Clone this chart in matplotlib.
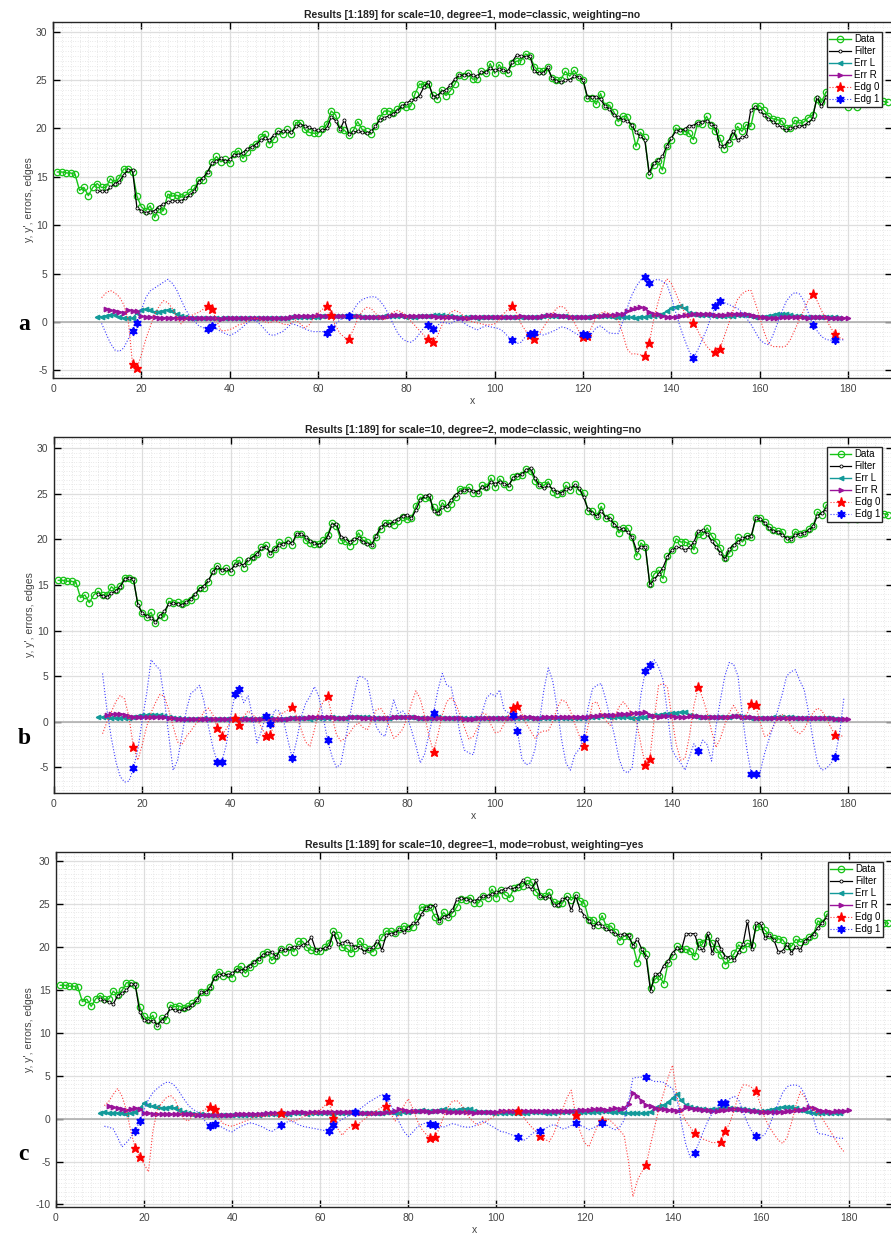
import numpy as np
import matplotlib.pyplot as plt
from matplotlib.ticker import MultipleLocator

plt.rcParams['font.family'] = ['Liberation Sans', 'DejaVu Sans']
plt.rcParams['axes.unicode_minus'] = False

# measured series, x = 1..189
y_data = [15.5, 15.5, 15.4, 15.4, 15.25, 13.6, 13.9, 13.05, 13.9, 14.3,
          13.9, 13.9, 14.8, 14.4, 14.9, 15.8, 15.8, 15.5, 13.0, 11.9,
          11.5, 12.0, 10.8, 11.7, 11.5, 13.2, 13.0, 13.1, 12.9, 13.1,
          13.4, 13.8, 14.7, 14.7, 15.35, 16.5, 17.1, 16.55, 16.8, 16.4,
          17.4, 17.7, 16.9, 17.6, 18.1, 18.4, 19.1, 19.4, 18.4, 18.9,
          19.7, 19.4, 19.9, 19.4, 20.6, 20.6, 19.9, 19.6, 19.5, 19.5,
          19.9, 20.45, 21.8, 21.4, 19.9, 19.8, 19.3, 19.8, 20.7, 19.9,
          19.7, 19.4, 20.2, 21.1, 21.8, 21.8, 21.6, 22.0, 22.4, 22.2,
          22.3, 23.6, 24.6, 24.5, 24.6, 23.5, 23.0, 24.0, 23.4, 23.9,
          24.6, 25.55, 25.4, 25.7, 25.1, 25.1, 25.9, 25.7, 26.7, 25.7,
          26.6, 26.0, 25.7, 26.8, 26.95, 27.0, 27.7, 27.5, 26.4, 25.9,
          25.9, 26.3, 25.2, 25.0, 25.05, 25.9, 25.4, 26.0, 25.3, 25.05,
          23.1, 23.1, 22.5, 23.6, 22.3, 22.4, 21.7, 20.7, 21.25, 21.2,
          20.2, 18.15, 19.6, 19.1, 15.15, 16.2, 16.6, 15.7, 18.15, 18.85,
          20.05, 19.7, 19.7, 19.5, 18.85, 20.55, 20.45, 21.25, 20.4, 19.7,
          19.0, 17.9, 18.5, 19.2, 20.2, 19.7, 20.4, 20.2, 22.3, 22.35,
          21.9, 21.3, 21.0, 20.9, 20.8, 20.05, 20.05, 20.85, 20.55, 20.65,
          21.1, 21.4, 23.0, 22.7, 23.75, 23.9, 23.4, 23.6, 23.0, 22.2,
          22.8, 22.2, 22.6, 23.0, 23.2, 23.1, 23.0, 22.8, 22.7]

# filter outputs, x = 10..180
filt_a = [13.5, 13.5, 13.5, 13.9, 14.3, 14.5, 15.2, 15.7, 15.7, 11.8,
          11.5, 11.3, 11.4, 11.5, 11.9, 12.2, 12.4, 12.5, 12.5, 12.5,
          12.8, 13.1, 13.5, 14.5, 14.9, 15.5, 16.4, 16.6, 16.9, 16.6,
          16.8, 17.3, 17.3, 17.5, 17.9, 18.1, 18.3, 18.8, 19.0, 18.8,
          19.3, 19.6, 19.7, 19.7, 19.6, 20.2, 20.4, 20.3, 20.1, 19.9,
          19.8, 19.8, 20.0, 21.2, 20.8, 19.9, 20.9, 19.4, 19.6, 19.7,
          19.6, 19.5, 19.7, 20.2, 20.9, 21.1, 21.3, 21.5, 21.8, 22.3,
          22.6, 22.9, 23.0, 23.4, 24.3, 24.8, 23.3, 23.4, 23.8, 24.0,
          24.5, 25.1, 25.5, 25.5, 25.6, 25.5, 25.4, 25.8, 25.8, 26.2,
          26.0, 26.1, 26.0, 25.9, 26.9, 27.6, 27.5, 27.4, 27.5, 25.9,
          25.7, 25.7, 26.3, 25.2, 24.9, 24.8, 25.0, 25.05, 25.4, 25.3,
          25.05, 23.3, 23.3, 23.3, 23.0, 22.3, 22.0, 21.4, 21.2, 20.9,
          20.8, 20.4, 19.6, 19.2, 18.8, 15.4, 16.4, 16.7, 17.1, 18.2,
          19.0, 19.7, 19.8, 19.9, 20.3, 20.3, 20.6, 20.7, 20.8, 20.5,
          20.2, 18.2, 18.2, 18.7, 19.7, 18.8, 19.1, 19.2, 21.9, 22.2,
          21.8, 21.4, 21.0, 20.7, 20.4, 20.1, 19.8, 20.0, 20.1, 20.2,
          20.3, 20.6, 21.0, 23.3, 22.3, 23.2, 23.5, 23.8, 24.0, 24.1, 24.0]

filt_b = [14.0, 13.8, 13.7, 14.1, 14.3, 14.8, 15.6, 15.8, 15.7, 12.8,
          11.9, 11.6, 11.4, 10.9, 11.6, 12.1, 12.9, 13.0, 12.9, 12.8,
          13.1, 13.5, 14.0, 14.6, 14.9, 15.5, 16.4, 17.0, 16.6, 16.7,
          16.6, 17.2, 17.3, 17.2, 17.8, 18.0, 18.4, 19.0, 19.2, 18.5,
          18.9, 19.4, 19.5, 19.7, 19.6, 20.6, 20.6, 20.3, 19.8, 19.6,
          19.4, 19.7, 20.3, 21.6, 21.7, 20.3, 20.1, 19.7, 20.0, 20.1,
          19.7, 19.5, 19.4, 20.4, 21.3, 21.7, 21.6, 22.0, 22.2, 22.6,
          22.7, 22.3, 23.2, 24.3, 24.7, 24.9, 23.1, 22.9, 23.5, 23.6,
          24.3, 24.9, 25.2, 25.4, 25.4, 25.3, 25.2, 25.7, 25.6, 26.3,
          26.1, 26.3, 26.1, 25.9, 26.7, 27.0, 27.1, 27.6, 27.8, 26.7,
          25.9, 25.6, 25.9, 25.5, 25.2, 25.1, 25.5, 25.6, 25.9, 25.6,
          24.6, 23.3, 22.9, 22.5, 23.1, 22.4, 22.2, 21.6, 21.2, 21.1,
          20.8, 20.2, 18.8, 19.2, 19.2, 15.0, 15.6, 16.2, 16.9, 18.1,
          18.8, 19.1, 19.1, 18.8, 19.1, 19.7, 20.9, 21.0, 20.6, 19.8,
          19.2, 18.5, 17.8, 18.9, 19.4, 19.7, 20.1, 20.3, 20.4, 22.3,
          22.2, 21.8, 21.2, 20.9, 20.8, 20.5, 20.1, 20.0, 20.5, 20.6,
          20.7, 21.0, 21.4, 22.6, 22.9, 23.3, 23.6, 23.7, 23.6, 23.4, 23.3]

filt_c = [13.9, 13.7, 13.6, 13.3, 14.3, 14.6, 14.9, 15.6, 15.6, 12.4,
          11.5, 11.3, 11.4, 10.9, 11.4, 12.0, 12.8, 12.6, 12.5, 12.7,
          12.9, 13.2, 13.8, 14.7, 14.7, 15.2, 16.4, 16.7, 16.8, 16.7,
          16.9, 17.3, 17.2, 17.5, 17.8, 18.2, 18.6, 19.0, 19.3, 19.4,
          18.8, 19.7, 19.6, 19.8, 20.0, 19.9, 20.2, 20.4, 21.1, 19.6,
          19.7, 19.8, 20.0, 21.6, 20.3, 20.4, 20.7, 20.3, 19.9, 20.0,
          19.4, 19.7, 19.9, 20.7, 19.6, 21.4, 21.5, 21.6, 22.0, 21.7,
          22.2, 22.7, 22.8, 23.8, 24.5, 24.7, 24.8, 23.0, 23.5, 23.6,
          24.2, 25.5, 25.7, 25.5, 25.4, 25.3, 25.6, 25.9, 25.9, 26.1,
          26.3, 26.5, 26.7, 26.9, 26.7, 27.1, 27.7, 27.0, 26.7, 27.7,
          25.9, 25.7, 25.9, 24.8, 24.8, 25.5, 25.7, 24.2, 25.9, 24.3,
          23.6, 23.0, 22.3, 22.8, 22.4, 22.0, 21.8, 21.5, 21.3, 21.5,
          21.3, 20.1, 20.9, 19.7, 18.8, 14.8, 16.8, 16.8, 17.8, 18.3,
          19.3, 19.8, 19.6, 21.5, 21.5, 21.5, 19.8, 19.6, 21.6, 19.2,
          20.9, 19.7, 18.8, 18.8, 18.4, 19.4, 20.3, 23.0, 19.7, 22.7,
          22.7, 21.0, 21.3, 20.8, 19.4, 19.5, 20.3, 19.3, 20.0, 19.6,
          20.7, 21.0, 21.5, 22.2, 22.8, 23.4, 23.6, 23.9, 24.0, 23.8, 23.6]

# left-window errors, x = 10..178
errl_a = [0.50, 0.55, 0.62, 0.72, 0.68, 0.52, 0.42, 0.38, 0.40, 0.90,
          1.20, 1.30, 1.22, 1.05, 0.98, 1.10, 1.25, 1.12, 0.80, 0.60,
          0.50, 0.45, 0.42, 0.40, 0.40, 0.38, 0.40, 0.38, 0.36, 0.38,
          0.36, 0.38, 0.40, 0.38, 0.40, 0.42, 0.40, 0.38, 0.40, 0.42,
          0.40, 0.42, 0.40, 0.44, 0.46, 0.48, 0.50, 0.52, 0.50, 0.52,
          0.55, 0.58, 0.60, 0.62, 0.60, 0.58, 0.62, 0.64, 0.60, 0.58,
          0.55, 0.52, 0.50, 0.52, 0.55, 0.60, 0.65, 0.62, 0.60, 0.58,
          0.55, 0.52, 0.55, 0.58, 0.62, 0.60, 0.70, 0.75, 0.72, 0.65,
          0.60, 0.55, 0.52, 0.50, 0.48, 0.46, 0.45, 0.46, 0.48, 0.50,
          0.52, 0.55, 0.55, 0.52, 0.50, 0.48, 0.46, 0.48, 0.50, 0.52,
          0.55, 0.58, 0.60, 0.62, 0.60, 0.58, 0.56, 0.54, 0.52, 0.50,
          0.52, 0.55, 0.58, 0.62, 0.64, 0.60, 0.58, 0.55, 0.52, 0.50,
          0.48, 0.46, 0.45, 0.48, 0.55, 0.62, 0.65, 0.68, 0.80, 1.10,
          1.40, 1.55, 1.60, 1.45, 0.95, 0.80, 0.75, 0.72, 0.70, 0.68,
          0.65, 0.62, 0.60, 0.62, 0.65, 0.68, 0.70, 0.68, 0.62, 0.55,
          0.50, 0.55, 0.62, 0.70, 0.80, 0.85, 0.82, 0.75, 0.65, 0.58,
          0.52, 0.50, 0.48, 0.50, 0.52, 0.50, 0.48, 0.46, 0.45]

errl_b = [0.50, 0.52, 0.50, 0.45, 0.40, 0.38, 0.40, 0.45, 0.55, 0.62,
          0.70, 0.75, 0.78, 0.80, 0.75, 0.65, 0.50, 0.42, 0.38, 0.36,
          0.35, 0.34, 0.35, 0.36, 0.38, 0.36, 0.35, 0.34, 0.35, 0.36,
          0.36, 0.35, 0.36, 0.38, 0.36, 0.35, 0.36, 0.38, 0.40, 0.38,
          0.36, 0.35, 0.36, 0.38, 0.40, 0.42, 0.40, 0.38, 0.36, 0.38,
          0.40, 0.42, 0.45, 0.48, 0.46, 0.44, 0.46, 0.50, 0.55, 0.58,
          0.55, 0.50, 0.45, 0.42, 0.40, 0.42, 0.45, 0.48, 0.50, 0.52,
          0.50, 0.48, 0.45, 0.42, 0.40, 0.42, 0.45, 0.48, 0.46, 0.44,
          0.42, 0.40, 0.40, 0.38, 0.38, 0.40, 0.40, 0.42, 0.40, 0.38,
          0.38, 0.40, 0.42, 0.44, 0.42, 0.40, 0.38, 0.38, 0.40, 0.42,
          0.40, 0.40, 0.42, 0.44, 0.46, 0.45, 0.44, 0.42, 0.40, 0.42,
          0.45, 0.48, 0.52, 0.58, 0.62, 0.60, 0.58, 0.55, 0.52, 0.50,
          0.48, 0.46, 0.45, 0.48, 0.55, 0.62, 0.70, 0.78, 0.85, 0.90,
          0.95, 1.00, 1.05, 1.10, 0.80, 0.62, 0.58, 0.55, 0.52, 0.50,
          0.50, 0.52, 0.55, 0.58, 0.60, 0.62, 0.55, 0.50, 0.45, 0.42,
          0.40, 0.42, 0.45, 0.48, 0.50, 0.52, 0.50, 0.48, 0.45, 0.42,
          0.40, 0.38, 0.38, 0.40, 0.40, 0.38, 0.38, 0.36, 0.36]

errl_c = [0.70, 0.72, 0.70, 0.68, 0.65, 0.60, 0.55, 0.60, 0.80, 1.20,
          1.75, 1.55, 1.40, 1.30, 1.25, 1.20, 1.30, 1.25, 1.00, 0.75,
          0.60, 0.55, 0.50, 0.48, 0.45, 0.44, 0.42, 0.40, 0.40, 0.42,
          0.42, 0.44, 0.45, 0.44, 0.42, 0.44, 0.46, 0.48, 0.50, 0.52,
          0.50, 0.52, 0.55, 0.58, 0.60, 0.62, 0.60, 0.58, 0.60, 0.62,
          0.65, 0.62, 0.60, 0.58, 0.60, 0.65, 0.70, 0.75, 0.72, 0.70,
          0.68, 0.65, 0.62, 0.65, 0.70, 0.75, 0.72, 0.70, 0.68, 0.72,
          0.78, 0.85, 0.90, 0.95, 0.92, 0.88, 0.92, 0.98, 1.05, 1.00,
          0.95, 1.00, 1.10, 1.15, 1.05, 0.90, 0.80, 0.75, 0.72, 0.70,
          0.68, 0.65, 0.62, 0.60, 0.62, 0.65, 0.68, 0.70, 0.72, 0.75,
          0.72, 0.70, 0.68, 0.70, 0.72, 0.75, 0.80, 0.85, 0.82, 0.78,
          0.75, 0.72, 0.75, 0.80, 0.85, 0.82, 0.78, 0.75, 0.72, 0.70,
          0.68, 0.65, 0.62, 0.60, 0.62, 0.80, 1.20, 1.45, 1.60, 1.90,
          2.40, 2.85, 2.10, 1.60, 1.35, 1.20, 1.10, 1.05, 1.00, 1.05,
          1.10, 1.20, 1.25, 1.20, 1.15, 1.10, 1.05, 1.00, 0.95, 0.90,
          0.85, 0.90, 1.00, 1.10, 1.20, 1.30, 1.35, 1.30, 1.20, 1.00,
          0.85, 0.75, 0.70, 0.65, 0.62, 0.60, 0.62, 0.65, 0.60]

# right-window errors, x = 12..180
errr_a = [1.30, 1.20, 1.12, 1.05, 0.95, 1.22, 1.18, 1.10,
          0.60, 0.50, 0.48, 0.46, 0.45, 0.44, 0.45, 0.44, 0.42, 0.42,
          0.42, 0.40, 0.40, 0.38, 0.40, 0.38, 0.36, 0.36, 0.35, 0.36,
          0.38, 0.38, 0.40, 0.40, 0.38, 0.40, 0.40, 0.38, 0.40, 0.40,
          0.40, 0.40, 0.42, 0.45, 0.55, 0.58, 0.60, 0.62, 0.60, 0.65,
          0.68, 0.65, 0.62, 0.60, 0.58, 0.60, 0.62, 0.62, 0.60, 0.58,
          0.50, 0.48, 0.48, 0.50, 0.52, 0.55, 0.62, 0.70, 0.72, 0.70,
          0.65, 0.60, 0.58, 0.62, 0.65, 0.62, 0.58, 0.55, 0.52, 0.50,
          0.48, 0.46, 0.44, 0.44, 0.45, 0.46, 0.48, 0.50, 0.50, 0.52,
          0.52, 0.50, 0.48, 0.48, 0.52, 0.55, 0.58, 0.55, 0.52, 0.52,
          0.55, 0.62, 0.70, 0.72, 0.68, 0.62, 0.58, 0.55, 0.52, 0.50,
          0.50, 0.52, 0.55, 0.60, 0.65, 0.70, 0.72, 0.75, 0.78, 0.80,
          1.10, 1.30, 1.45, 1.50, 1.40, 1.00, 0.82, 0.78, 0.60, 0.52,
          0.50, 0.55, 0.62, 0.70, 0.75, 0.78, 0.80, 0.82, 0.80, 0.78,
          0.75, 0.72, 0.75, 0.80, 0.82, 0.85, 0.82, 0.78, 0.72, 0.65,
          0.55, 0.48, 0.45, 0.44, 0.45, 0.48, 0.50, 0.52, 0.50, 0.48,
          0.46, 0.45, 0.48, 0.50, 0.48, 0.46, 0.45, 0.44, 0.44, 0.43, 0.42]

errr_b = [0.70, 0.85, 0.88, 0.90, 0.80, 0.60, 0.52, 0.50,
          0.48, 0.50, 0.52, 0.55, 0.58, 0.55, 0.45, 0.38, 0.35, 0.32,
          0.30, 0.30, 0.32, 0.34, 0.35, 0.34, 0.32, 0.30, 0.30, 0.32,
          0.34, 0.35, 0.36, 0.35, 0.34, 0.33, 0.34, 0.36, 0.38, 0.36,
          0.35, 0.34, 0.35, 0.36, 0.38, 0.40, 0.42, 0.45, 0.50, 0.55,
          0.58, 0.55, 0.50, 0.48, 0.45, 0.44, 0.46, 0.48, 0.50, 0.48,
          0.45, 0.42, 0.40, 0.38, 0.40, 0.42, 0.45, 0.48, 0.50, 0.52,
          0.52, 0.50, 0.48, 0.45, 0.42, 0.40, 0.42, 0.45, 0.44, 0.42,
          0.40, 0.38, 0.38, 0.36, 0.35, 0.36, 0.38, 0.40, 0.40, 0.38,
          0.38, 0.40, 0.42, 0.42, 0.45, 0.48, 0.50, 0.50, 0.48, 0.46,
          0.45, 0.48, 0.55, 0.58, 0.55, 0.52, 0.50, 0.52, 0.55, 0.55,
          0.55, 0.58, 0.62, 0.68, 0.72, 0.75, 0.78, 0.80, 0.82, 0.85,
          0.88, 0.92, 0.95, 1.00, 1.05, 0.70, 0.62, 0.58, 0.60, 0.62,
          0.60, 0.55, 0.52, 0.55, 0.60, 0.62, 0.60, 0.58, 0.55, 0.52,
          0.50, 0.50, 0.52, 0.55, 0.60, 0.62, 0.58, 0.52, 0.48, 0.45,
          0.42, 0.40, 0.40, 0.42, 0.45, 0.46, 0.45, 0.44, 0.42, 0.40,
          0.40, 0.42, 0.44, 0.45, 0.42, 0.40, 0.38, 0.36, 0.35, 0.34, 0.32]

errr_c = [1.40, 1.30, 1.20, 1.10, 1.00, 1.10, 1.25, 1.15,
          0.70, 0.60, 0.55, 0.52, 0.50, 0.50, 0.52, 0.50, 0.48, 0.50,
          0.50, 0.48, 0.46, 0.45, 0.44, 0.45, 0.46, 0.45, 0.44, 0.45,
          0.46, 0.48, 0.50, 0.52, 0.54, 0.55, 0.56, 0.58, 0.60, 0.62,
          0.64, 0.66, 0.68, 0.70, 0.72, 0.74, 0.72, 0.70, 0.72, 0.74,
          0.75, 0.76, 0.78, 0.80, 0.78, 0.76, 0.74, 0.72, 0.70, 0.68,
          0.66, 0.65, 0.64, 0.65, 0.68, 0.72, 0.78, 0.85, 1.10, 0.95,
          0.90, 0.88, 0.86, 0.84, 0.82, 0.80, 0.82, 0.84, 0.82, 0.80,
          0.78, 0.76, 0.75, 0.74, 0.72, 0.70, 0.72, 0.74, 0.76, 0.78,
          0.80, 0.82, 0.85, 0.88, 0.90, 0.92, 0.90, 0.88, 0.86, 0.84,
          0.85, 0.86, 0.88, 0.90, 0.92, 0.90, 0.88, 0.90, 0.92, 0.95,
          0.98, 1.00, 1.05, 1.10, 1.05, 1.00, 1.05, 1.20, 1.10, 1.25,
          1.70, 3.00, 2.60, 2.00, 1.60, 1.40, 1.20, 1.10, 1.05, 1.00,
          0.95, 0.90, 1.00, 1.30, 1.20, 1.10, 1.05, 1.00, 0.95, 0.90,
          0.90, 0.95, 1.00, 1.10, 1.15, 1.05, 1.00, 0.95, 0.90, 0.85,
          0.80, 0.78, 0.76, 0.75, 0.78, 0.80, 0.85, 0.90, 0.95, 1.00,
          1.10, 1.30, 1.20, 1.00, 0.90, 0.85, 0.80, 0.82, 0.85, 0.90, 1.00]

# edge responses, x = 11..179
edg0_a = [2.5, 3.0, 3.25, 3.0, 2.6, 1.8, 0.3, -4.3, -4.8, -3.4,
          -1.8, -0.5, 0.8, 1.6, 2.2, 2.0, 1.4, 0.5, -0.2, 0.3,
          0.6, 0.8, 1.0, 1.3, 1.6, 1.3, 0.2, -0.9, -0.9, -0.8,
          -0.6, -0.3, -0.2, 0.1, 0.3, 0.4, 0.2, 0.0, -0.1, 0.1,
          0.0, -0.2, -0.3, -0.1, 0.2, -0.2, -0.6, -0.3, 0.4, 0.9,
          1.3, 1.6, 0.7, -0.4, -1.2, -1.6, -1.75, -0.8, 0.3, 1.1,
          1.5, 1.4, 0.9, 0.4, 0.2, 0.6, 1.0, 1.2, 1.0, 0.5,
          0.1, -0.4, -0.9, -1.4, -1.8, -2.1, -1.5, -0.4, 0.5, 1.0,
          1.2, 1.0, 0.6, 0.2, 0.0, -0.1, -0.2, -0.3, -0.3, -0.2,
          0.2, 0.8, 1.3, 1.6, 0.9, -0.2, -0.9, -1.35, -1.75, -1.3,
          -0.6, 0.1, 0.8, 1.4, 1.65, 1.4, 0.7, 0.0, -0.9, -1.6,
          -1.5, -0.5, 0.5, 0.9, 1.05, 0.8, 0.5, 0.2, -1.2, -2.8,
          -3.3, -3.3, -3.4, -3.5, -2.2, 0.2, 2.0, 3.6, 4.45, 4.0,
          3.0, 1.9, 1.0, 0.4, -0.15, -0.9, -1.8, -2.5, -3.0, -3.15,
          -2.8, -1.5, -0.2, 1.2, 2.3, 2.9, 3.2, 3.3, 2.0, 0.55,
          -1.0, -2.2, -2.55, -2.55, -2.6, -2.5, -1.8, -0.8, 0.2, 1.2,
          2.2, 2.9, 2.2, 1.2, 0.3, -0.5, -1.25, -1.6, -1.8]

edg1_a = [-0.15, -1.2, -2.2, -2.9, -3.05, -2.7, -1.8, -0.9, -0.15, 1.2,
          2.5, 3.2, 3.5, 3.8, 4.1, 4.4, 4.0, 3.3, 2.3, 1.3,
          0.6, 0.1, -0.4, -0.6, -0.7, -0.45, -0.7, -1.0, -1.2, -1.4,
          -1.2, -0.9, -0.5, -0.1, 0.2, 0.1, -0.3, -0.8, -1.3, -1.4,
          -1.2, -1.0, -0.6, -0.2, -0.3, -0.5, -0.7, -0.9, -1.0, -1.0,
          -1.0, -1.1, -0.65, -0.2, 0.2, 0.5, 0.6, 1.2, 1.9, 2.3,
          2.5, 2.6, 2.6, 2.2, 1.6, 0.8, -0.2, -1.1, -1.7, -2.0,
          -2.1, -1.8, -1.2, -0.6, -0.3, -0.7, -0.4, 0.0, -0.1, -0.2,
          0.1, 0.2, -0.1, -0.4, -0.6, -0.85, -0.6, -0.4, -0.5, -0.6,
          -0.7, -1.0, -1.5, -1.9, -2.25, -2.1, -1.5, -1.25, -1.1, -1.2,
          -1.35, -1.2, -1.0, -0.8, -0.5, -0.6, -0.8, -1.1, -1.35, -1.2,
          -1.35, -1.2, -0.6, -0.4, -0.8, -1.15, -1.2, -1.2, 0.0, 1.4,
          2.7, 3.6, 4.3, 4.65, 4.0, 4.3, 4.4, 4.2, 3.9, 2.6,
          1.0, -0.5, -1.8, -3.0, -3.7, -2.9, -1.85, -0.8, 0.5, 1.6,
          2.2, 2.0, 1.8, 1.6, 1.4, 1.0, 0.4, -0.2, -1.0, -1.8,
          -2.2, -2.35, -1.4, -0.2, 1.0, 2.1, 2.7, 3.05, 2.9, 2.2,
          1.0, -0.27, -0.9, -1.5, -1.8, -1.9, -1.9, -1.85, -1.85]

edg0_b = [-1.3, 0.0, 1.1, 2.2, 2.9, 2.5, 0.5, -2.8, -4.2, -2.5,
          -0.5, 1.0, 2.1, 3.0, 2.8, 1.3, -0.5, -2.2, -2.5, -1.6,
          -1.0, -0.3, 0.3, 1.1, 1.5, 0.8, -0.7, -1.5, -0.8, 0.0,
          0.4, -0.35, 0.6, 1.2, 0.8, 0.3, -0.6, -1.5, -1.4, -0.2,
          0.8, 1.0, 1.3, 1.6, 0.6, -0.8, -2.2, -2.7, -0.9, 1.2,
          2.2, 2.8, 0.6, -1.4, -2.1, -1.8, -1.2, -0.5, -0.1, -0.6,
          -0.9, 0.2, 1.3, 1.5, 0.8, -0.6, -1.8, -1.4, -0.8, 0.4,
          2.0, 3.4, 2.5, 0.6, -1.6, -3.3, -1.4, 0.8, 2.2, 2.7,
          2.0, 0.8, -0.6, -1.9, -1.6, -0.6, 1.0, 0.8, -0.3, -1.2,
          -1.1, -0.2, 0.7, 1.5, 1.75, 0.9, -0.2, -1.0, -1.8, -1.2,
          -1.0, -1.0, 0.0, 1.5, 2.4, 2.2, 1.2, -0.2, -1.5, -2.7,
          -0.5, 2.0, 2.2, 1.0, 0.2, -0.4, 0.5, 1.6, 2.2, 1.6,
          0.8, 0.0, -2.5, -4.75, -4.1, 0.3, 4.0, 4.2, 3.8, 0.5,
          -2.5, -4.2, -4.0, -1.5, 1.8, 3.8, 2.6, 1.0, -1.0, -2.8,
          -1.8, -0.3, 1.0, 1.8, 1.0, 0.2, 0.8, 2.0, 1.8, 0.0,
          -1.6, -1.4, -0.5, 0.5, 0.8, 0.5, -0.4, -1.0, -1.3, -0.8,
          0.2, 1.0, 1.5, 1.2, 0.4, -0.6, -1.4, -1.6, -1.5]

edg1_b = [5.3, 1.3, -1.8, -4.3, -6.0, -6.6, -6.5, -5.1, -3.0, 0.2,
          3.1, 6.8, 6.2, 5.7, 2.5, -1.5, -5.3, -4.2, -1.5, 1.3,
          3.1, 3.5, 4.0, 2.2, -0.5, -2.8, -4.4, -4.4, -2.6, 0.5,
          3.0, 3.6, 2.1, 2.85, 0.5, -2.3, -1.0, 0.65, -0.2, 1.3,
          1.2, 0.2, -2.0, -4.0, -2.0, 0.5, 2.0, 2.8, 3.85, 2.8,
          0.5, -2.0, -3.8, -5.0, -4.6, -2.0, 0.55, 3.0, 5.0, 4.9,
          4.5, 2.0, -0.5, -1.3, -1.6, 0.5, 2.4, 0.9, 1.2, 0.6,
          -0.9, -2.6, -4.5, -3.5, -1.3, 1.0, 3.5, 5.3, 4.0, 3.8,
          1.5, -1.3, -3.1, -3.4, -3.6, -1.3, 1.0, 2.6, 3.1, 2.8,
          3.5, 1.3, 1.0, 0.75, -1.0, -4.0, -4.7, -4.5, -3.0, 0.0,
          3.5, 5.9, 4.5, 1.5, -1.9, -4.5, -5.3, -3.6, -3.0, -1.8,
          1.5, 3.6, 4.0, 4.2, 2.5, 0.5, -1.5, -4.0, -5.3, -5.6,
          -5.0, -1.0, 3.0, 5.6, 6.2, 6.8, 6.0, 4.6, 1.0, -3.0,
          -3.9, -4.5, -5.3, -3.8, -2.4, -3.2, -2.0, -2.5, -4.3, -0.5,
          2.4, 5.0, 6.5, 6.3, 5.0, 0.6, -3.0, -5.7, -5.7, -5.5,
          -3.5, -1.9, -0.5, 1.3, 3.0, 5.0, 5.5, 5.7, 4.5, 3.5,
          1.0, -2.0, -4.5, -5.3, -5.1, -4.6, -3.8, -1.3, 2.7]

edg0_c = [1.5, 2.0, 2.8, 3.5, 2.6, 1.0, -1.5, -3.4, -4.5, -5.3,
          -6.2, -1.5, 1.0, 1.8, 2.4, 2.7, 2.2, 1.0, 0.0, -0.3,
          0.3, 0.5, 0.8, 1.1, 1.35, 1.05, 0.0, -0.6, -0.8, -0.9,
          -0.7, -0.5, -0.3, -0.1, 0.2, 0.3, 0.2, 0.3, 0.4, 0.5,
          0.6, 0.2, -0.2, -0.3, -0.1, 0.2, 0.4, 0.5, 0.6, 1.0,
          1.5, 2.0, 0.1, -1.2, -1.95, -1.3, -0.9, -0.8, -0.5, -0.1,
          0.3, 0.6, 1.0, 1.3, 1.5, 0.6, -0.3, 0.5, 1.5, 2.3,
          1.2, -0.2, -1.2, -1.8, -2.25, -2.15, -1.2, 0.2, 1.3, 2.0,
          2.1, 1.6, 0.8, 0.0, -0.5, -0.8, -0.5, -0.2, 0.1, 0.4,
          0.7, 0.9, 1.0, 0.9, 0.9, 0.3, -0.4, -1.0, -1.5, -2.0,
          -2.4, -2.7, -1.8, -0.4, 1.0, 2.4, 3.3, 0.45, -1.5, -2.8,
          -3.3, -2.0, -0.8, -0.3, 0.0, -0.3, -0.8, -1.4, -1.95, -5.0,
          -9.1, -7.2, -6.2, -5.45, -3.0, -0.8, 1.35, 3.0, 4.8, 6.2,
          2.5, 0.8, -0.3, -1.0, -1.7, -2.0, -2.4, -2.6, -2.8, -2.8,
          -2.7, -1.45, -0.5, 1.0, 2.8, 3.9, 3.9, 3.6, 3.2, 1.5,
          0.0, -1.0, -1.8, -2.5, -2.9, -2.2, -0.5, 1.5, 3.1, 2.5,
          1.5, 1.0, 0.6, 0.0, -0.8, -1.6, -2.5, -3.3, -3.9]

edg1_c = [-0.9, -1.0, -1.2, -2.2, -3.3, -2.8, -2.2, -1.5, -0.3, 1.0,
          2.2, 3.0, 3.5, 3.9, 4.2, 4.2, 3.8, 3.1, 2.3, 1.6,
          1.1, 0.8, 0.3, -0.4, -0.9, -0.6, -0.8, -1.1, -1.4, -1.55,
          -1.2, -0.9, -0.7, -0.5, -0.6, -0.8, -1.0, -1.3, -1.5, -1.2,
          -0.8, -0.5, -0.3, -0.4, -0.7, -0.9, -1.0, -1.1, -1.2, -1.3,
          -1.4, -1.45, -0.8, -0.4, -0.1, 0.2, 0.5, 0.8, 1.1, 1.5,
          1.9, 2.2, 2.5, 2.8, 2.45, 1.6, 0.6, -0.5, -1.5, -2.1,
          -1.6, -1.0, -0.7, -0.5, -0.6, -0.7, -0.9, -1.0, -0.8, -0.6,
          -0.7, -0.9, -1.0, -1.0, -0.9, -0.5, -0.3, -0.6, -0.9, -1.2,
          -1.5, -1.6, -1.8, -2.0, -2.15, -2.6, -2.3, -1.8, -1.5, -1.45,
          -1.2, -0.9, -0.7, -0.9, -1.2, -1.1, -0.8, -0.5, -0.8, -1.0,
          -1.3, -1.1, -0.8, -0.5, -0.7, -1.1, -1.3, -1.0, -0.2, 2.0,
          4.7, 4.8, 4.8, 4.85, 4.5, 4.3, 4.3, 4.2, 3.8, 3.5,
          2.2, -0.5, -3.0, -4.5, -4.0, -2.8, -1.5, -0.3, 0.6, 1.3,
          1.8, 1.8, 2.3, 2.6, 2.2, 0.8, -0.5, -1.5, -2.0, -2.2,
          -1.8, -0.8, 0.5, 1.8, 3.0, 3.7, 3.9, 3.9, 3.7, 2.8,
          1.5, 0.0, -1.75, -1.8, -1.9, -2.1, -2.2, -2.3, -2.3]

# detected edge positions
stars_a = [18, 19, 35, 36, 62, 63, 67, 85, 86, 104, 108, 109, 120, 121,
           134, 135, 145, 150, 151, 172, 177]
stars_b = [18, 37, 38, 41, 42, 48, 49, 54, 62, 86, 104, 105, 120, 134,
           135, 146, 158, 159, 177]
stars_c = [18, 19, 35, 36, 51, 62, 63, 68, 75, 85, 86, 105, 110, 118,
           124, 134, 145, 151, 152, 159]

titles = ["Results [1:189] for scale=10, degree=1, mode=classic, weighting=no",
          "Results [1:189] for scale=10, degree=2, mode=classic, weighting=no",
          "Results [1:189] for scale=10, degree=1, mode=robust, weighting=yes"]

GREEN = '#17c417'
TEAL = '#139a9a'
PURPLE = '#9a139a'


def xs(start, arr):
    return np.arange(start, start + len(arr))


def panel(ax, title, filt, errl, errr, edg0, edg1, stars, ylim, yticks):
    ax.axhline(0, color='#b0b0b0', lw=1.2, zorder=1)
    ax.plot(xs(1, y_data), y_data, '-o', color=GREEN, mfc='none', ms=4.6,
            mew=0.9, lw=1.0, label='Data', zorder=3)
    ax.plot(xs(10, filt), filt, '-o', color='black', mfc='white', ms=2.2,
            mew=0.6, lw=0.9, label='Filter', zorder=4)
    ax.plot(xs(10, errl), errl, '-<', color=TEAL, ms=3.2, lw=1.0,
            label='Err L', zorder=5)
    ax.plot(xs(12, errr), errr, '->', color=PURPLE, ms=3.2, lw=1.0,
            label='Err R', zorder=5)
    idx = [s - 11 for s in stars]
    ax.plot(xs(11, edg0), edg0, ':', color='#ff3b3b', lw=0.8, marker='*',
            mfc='red', mec='red', ms=6.5, markevery=idx, label='Edg 0', zorder=6)
    ax.plot(xs(11, edg1), edg1, ':', color='#3b3bff', lw=0.8, marker=(6, 1, 0),
            mfc='blue', mec='blue', ms=6, markevery=idx, label='Edg 1', zorder=6)

    ax.set_xlim(0, 190)
    ax.set_ylim(*ylim)
    ax.set_xticks(np.arange(0, 181, 20))
    ax.set_yticks(yticks)
    ax.xaxis.set_minor_locator(MultipleLocator(2))
    ax.yaxis.set_minor_locator(MultipleLocator(0.5))
    ax.grid(True, which='major', color='#dedede', lw=0.9, zorder=0)
    ax.grid(True, which='minor', color='#d4d4d4', lw=0.5, ls=(0, (1, 2.5)), zorder=0)
    ax.set_axisbelow(True)
    ax.tick_params(which='major', direction='in', top=True, right=True,
                   length=5, width=1.0, labelsize=7.5, labelcolor='#444444', pad=4)
    ax.tick_params(which='minor', length=0)
    for sp in ax.spines.values():
        sp.set_color('#262626')
        sp.set_linewidth(1.0)
    ax.set_title(title, fontsize=7.5, fontweight='bold', pad=3, color='#222222')
    ax.set_xlabel('x', fontsize=7.5, color='#444444', labelpad=2)
    ax.set_ylabel("y, y', errors, edges", fontsize=7.5, color='#444444', labelpad=1)
    leg = ax.legend(loc='upper right', bbox_to_anchor=(0.988, 0.972),
                    borderaxespad=0, fontsize=7, fancybox=False, framealpha=1,
                    edgecolor='#262626', handlelength=2.2, handletextpad=0.35,
                    borderpad=0.25, labelspacing=0.2)
    leg.get_frame().set_linewidth(1.0)


fig = plt.figure(figsize=(8.91, 12.37), dpi=100)

ax_a = fig.add_axes([0.0595, 0.6944, 0.9417, 0.2878])
ax_b = fig.add_axes([0.0606, 0.3589, 0.9411, 0.2878])
ax_c = fig.add_axes([0.0628, 0.0242, 0.9392, 0.2870])

panel(ax_a, titles[0], filt_a, errl_a, errr_a, edg0_a, edg1_a, stars_a,
      (-5.8, 31.0), np.arange(-5, 31, 5))
panel(ax_b, titles[1], filt_b, errl_b, errr_b, edg0_b, edg1_b, stars_b,
      (-7.8, 31.2), np.arange(-5, 31, 5))
panel(ax_c, titles[2], filt_c, errl_c, errr_c, edg0_c, edg1_c, stars_c,
      (-10.3, 31.0), np.arange(-10, 31, 5))

for letter, ypx in (('a', 325), ('b', 738), ('c', 1155)):
    fig.text(18 / 891, 1 - ypx / 1237, letter, fontsize=17, fontweight='bold',
             family='Liberation Serif', ha='left', va='center')

fig.savefig('out.png', dpi=100)
